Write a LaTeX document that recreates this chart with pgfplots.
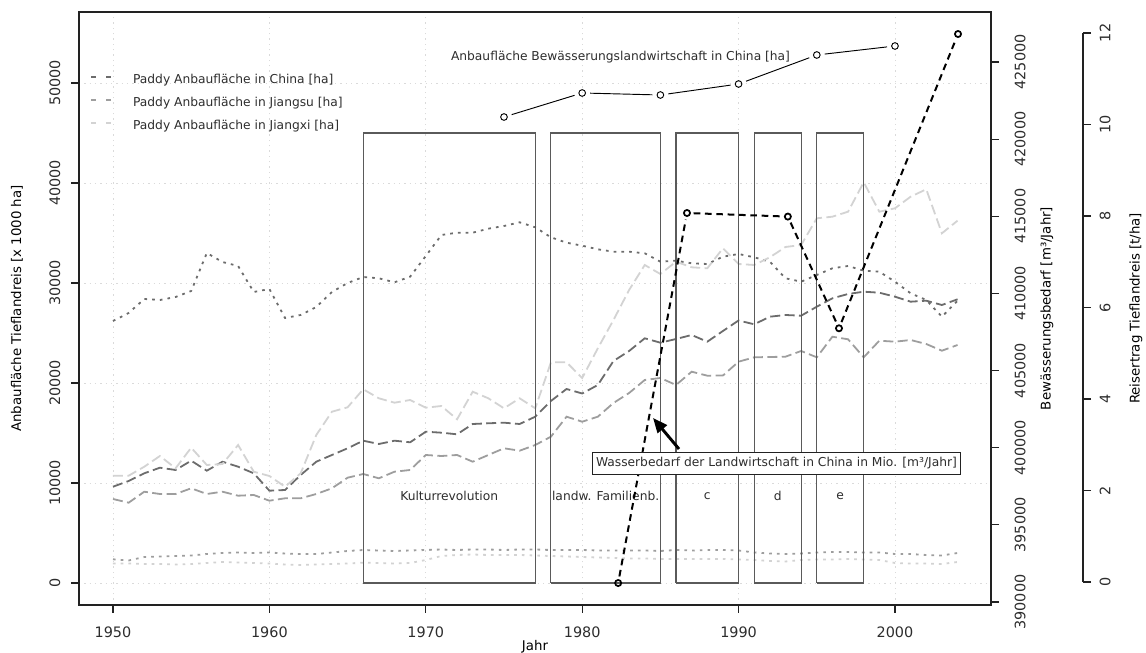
\documentclass[border=0pt]{standalone}
\usepackage{fontspec}
\setmainfont{DejaVu Sans}
\usepackage{pgfplots}
\usepackage{pgfplotstable}
\pgfplotsset{compat=1.18}
\usetikzlibrary{arrows.meta}

\definecolor{txt}{RGB}{45,45,45}
\definecolor{frame}{RGB}{34,34,34}
\definecolor{gdark}{RGB}{108,108,108}
\definecolor{gmed}{RGB}{158,158,158}
\definecolor{glight}{RGB}{211,211,211}
\definecolor{gridc}{RGB}{218,218,218}
\definecolor{boxc}{RGB}{90,90,90}

\newcommand{\tickfont}{\fontsize{10.8}{13}\selectfont}
\newcommand{\labfont}{\fontsize{11.2}{13}\selectfont}
\newcommand{\smallfont}{\fontsize{9.2}{11}\selectfont}

% year, China dotted, Jiangsu dotted, Jiangxi dotted, dashed lines (dark, medium, light)
\pgfplotstableread{
year cd js jx dd md ld
1950 26200 2370 1950 9630 8400 10730
1951 27000 2250 1950 10200 8030 10730
1952 28400 2600 1900 10970 9130 11630
1953 28300 2650 1900 11530 8900 12700
1954 28600 2700 1850 11300 8900 11470
1955 29200 2750 1900 12230 9470 13530
1956 33000 2900 2000 11230 8900 11800
1957 32100 3000 2100 12130 9130 11900
1958 31700 3050 2050 11630 8730 13800
1959 29100 3000 2000 10970 8800 11130
1960 29400 3050 1950 9230 8230 10700
1961 26500 2950 1850 9300 8470 9630
1962 26800 2900 1800 10800 8470 10970
1963 27600 2900 1850 12130 8900 14800
1964 29100 3050 1900 12800 9470 17130
1965 30000 3200 1950 13470 10530 17570
1966 30600 3300 2030 14230 10900 19370
1967 30470 3250 2000 13900 10470 18470
1968 30070 3200 1950 14230 11130 18030
1969 30630 3250 2000 14070 11300 18300
1970 32700 3300 2300 15130 12800 17530
1971 34800 3350 2700 15030 12700 17700
1972 35030 3300 2800 14870 12800 16370
1973 35030 3350 2850 15900 12130 19130
1974 35430 3350 2800 15970 12800 18470
1975 35700 3300 2800 16030 13470 17470
1976 36070 3350 2800 15900 13230 18470
1977 35570 3350 2750 16630 13800 17470
1978 34570 3300 2700 18200 14630 22070
1979 34030 3300 2650 19400 16630 22070
1980 33730 3300 2600 18950 16130 20500
1981 33370 3250 2550 19800 16630 23470
1982 33130 3250 2500 22200 18000 26300
1983 33130 3250 2450 23200 19000 29300
1984 32970 3250 2450 24470 20300 31800
1985 32130 3200 2400 24030 20500 30900
1986 32230 3300 2400 24400 19800 32130
1987 31970 3250 2400 24800 21130 31570
1988 31900 3300 2400 24130 20730 31470
1989 32630 3300 2400 25200 20750 33470
1990 32900 3250 2350 26250 22130 31900
1991 32570 3050 2300 25870 22570 31800
1992 32130 2950 2200 26630 22600 32570
1993 30470 2900 2150 26800 22630 33600
1994 30130 2950 2300 26730 23200 33800
1995 30800 3050 2350 27630 22570 36470
1996 31470 3100 2350 28470 24630 36630
1997 31700 3100 2400 28900 24370 37130
1998 31230 3050 2350 29130 22570 40070
1999 31130 3050 2300 29030 24230 37130
2000 30130 2900 2000 28630 24130 37470
2001 28970 2900 1950 28130 24300 38630
2002 28300 2800 1950 28230 23900 39370
2003 26630 2750 1900 27800 23230 34970
2004 28230 3000 2100 28370 23800 36230
}\data

\pgfplotsset{
  base/.style={
    at={(0pt,0pt)}, anchor=south west,
    scale only axis, width=684pt, height=444.75pt,
    xmin=1947.826, xmax=2006.14,
    tick align=outside, major tick length=6pt,
    tick style={color=frame, line width=0.8pt},
    scaled ticks=false,
    /pgf/number format/fixed,
    /pgf/number format/precision=0,
    /pgf/number format/1000 sep={},
    /pgf/number format/assume math mode=true,
    tick label style={font=\tickfont, text=txt},
    label style={font=\labfont, text=txt},
    clip=false,
  },
  dashA/.style={line width=1.35pt, dash pattern=on 7.5pt off 3.3pt},
  dotA/.style={line width=1.35pt, dash pattern=on 2pt off 3.8pt},
  seg/.style={forget plot, black, line width=0.7pt, shorten <=6pt, shorten >=6pt},
  wseg/.style={black, line width=1.5pt, dash pattern=on 5pt off 3.5pt, shorten <=5pt, shorten >=5pt},
}

\begin{document}
\begin{tikzpicture}
\useasboundingbox (-59.25pt,-36pt) rectangle (800.25pt,453.75pt);

% main axis: paddy area
\begin{axis}[base,
  ymin=-2200, ymax=57100,
  axis line style={color=frame, line width=1.1pt},
  tick pos=left,
  xtick={1950,1960,...,2000},
  ytick={0,10000,...,50000},
  grid=major,
  grid style={color=gridc, line width=0.6pt, dash pattern=on 1pt off 3pt},
  yticklabel style={xshift=-12pt, rotate=90, anchor=center},
  xticklabel style={yshift=-14.25pt, anchor=center},
  xlabel={Jahr},
  ylabel={Anbaufläche Tieflandreis [x 1000 ha]},
  every axis x label/.style={at={(axis description cs:0.5,0)}, yshift=-31pt, anchor=center},
  every axis y label/.style={at={(axis description cs:0,0.5)}, xshift=-46.5pt, rotate=90, anchor=center},
  legend style={at={(axis description cs:0,1)}, anchor=north west, xshift=8.25pt, yshift=-46.5pt,
    draw=none, fill=none, font=\smallfont, text=txt, inner sep=0pt,
    row sep=8.25pt, column sep=15.75pt,
    nodes={inner sep=0pt, text height=7pt, text depth=2pt}},
  legend cell align=left,
  legend image code/.code={\draw[#1, dash pattern=on 3.75pt off 7.5pt] (0pt,2.5pt) -- (15pt,2.5pt);},
]
\addplot[gdark, dotA] table[x=year, y=cd] {\data};
\addlegendentry{Paddy Anbaufläche in China [ha]}
\addplot[gmed, dotA] table[x=year, y=js] {\data};
\addlegendentry{Paddy Anbaufläche in Jiangsu [ha]}
\addplot[glight, dotA] table[x=year, y=jx] {\data};
\addlegendentry{Paddy Anbaufläche in Jiangxi [ha]}

\addplot[forget plot, gdark, dashA] table[x=year, y=dd] {\data};
\addplot[forget plot, gmed, dashA] table[x=year, y=md] {\data};
\addplot[forget plot, glight, dashA] table[x=year, y=ld] {\data};

% periods
\addplot[forget plot, boxc, line width=0.8pt] coordinates {(1966,0) (1966,45000) (1977,45000) (1977,0) (1966,0)};
\addplot[forget plot, boxc, line width=0.8pt] coordinates {(1978,0) (1978,45000) (1985,45000) (1985,0) (1978,0)};
\addplot[forget plot, boxc, line width=0.8pt] coordinates {(1986,0) (1986,45000) (1990,45000) (1990,0) (1986,0)};
\addplot[forget plot, boxc, line width=0.8pt] coordinates {(1991,0) (1991,45000) (1994,45000) (1994,0) (1991,0)};
\addplot[forget plot, boxc, line width=0.8pt] coordinates {(1995,0) (1995,45000) (1998,45000) (1998,0) (1995,0)};

\node[font=\smallfont, text=txt] at (axis cs:1971.5,8700) {Kulturrevolution};
\node[font=\smallfont, text=txt] at (axis cs:1981.5,8700) {landw. Familienb.};
\node[font=\smallfont, text=txt] at (axis cs:1988,8700) {c};
\node[font=\smallfont, text=txt] at (axis cs:1992.5,8700) {d};
\node[font=\smallfont, text=txt] at (axis cs:1996.5,8700) {e};

% irrigated area
\addplot[seg] coordinates {(1975,46600) (1980,49000)};
\addplot[seg] coordinates {(1980,49000) (1985,48800)};
\addplot[seg] coordinates {(1985,48800) (1990,49900)};
\addplot[seg] coordinates {(1990,49900) (1995,52800)};
\addplot[seg] coordinates {(1995,52800) (2000,53700)};
\addplot[forget plot, only marks, mark=o, mark size=2.5pt, black, line width=0.7pt]
  coordinates {(1975,46600) (1980,49000) (1985,48800) (1990,49900) (1995,52800) (2000,53700)};
\node[font=\smallfont, text=txt] at (axis cs:1982.45,52630) {Anbaufläche Bewässerungslandwirtschaft in China [ha]};

\coordinate (lab) at (axis cs:1992.42,12000);
\coordinate (atail) at (axis cs:1986.19,13400);
\coordinate (ahead) at (axis cs:1984.53,16500);
\end{axis}

% water demand axis
\begin{axis}[base,
  ymin=389806, ymax=428240,
  axis x line=none, axis y line*=right,
  axis line style={draw=none},
  ytick={390000,395000,...,425000},
  yticklabel style={xshift=15.75pt, rotate=90, anchor=center},
  ylabel={Bewässerungsbedarf [m³/Jahr]},
  every axis y label/.style={at={(axis description cs:1,0.5)}, xshift=42pt, rotate=90, anchor=center},
]
\addplot[wseg] coordinates {(1982.3,391230) (1986.7,415212)};
\addplot[wseg] coordinates {(1986.7,415212) (1993.15,414980)};
\addplot[wseg] coordinates {(1993.15,414980) (1996.42,407740)};
\addplot[wseg] coordinates {(1996.42,407740) (2004.03,426813)};
\addplot[only marks, mark=o, mark size=2.3pt, black, line width=1.3pt]
  coordinates {(1982.3,391230) (1986.7,415212) (1993.15,414980) (1996.42,407740) (2004.03,426813)};
\end{axis}

% rice yield axis
\begin{axis}[
  at={(753pt,0pt)}, anchor=south east,
  scale only axis, width=20pt, height=444.75pt,
  xmin=0, xmax=1, ymin=-0.503, ymax=12.459,
  axis x line=none, axis y line*=right,
  axis line style={draw=none},
  tick align=outside, major tick length=6pt,
  tick style={color=frame, line width=0.8pt},
  ytick={0,2,...,12},
  /pgf/number format/fixed,
  /pgf/number format/assume math mode=true,
  tick label style={font=\tickfont, text=txt},
  yticklabel style={xshift=10.5pt, rotate=90, anchor=center},
  ylabel={Reisertrag Tieflandreis [t/ha]},
  label style={font=\labfont, text=txt},
  every axis y label/.style={at={(axis description cs:1,0.5)}, xshift=39.75pt, rotate=90, anchor=center},
  clip=false,
]
\draw[frame, line width=0.8pt] (axis cs:1,0) -- (axis cs:1,12);
\end{axis}

\draw[black, line width=2.2pt, -{Triangle[length=11pt,width=9pt]}] (atail) -- (ahead);
\node[draw=frame, fill=white, line width=0.6pt, font=\smallfont, text=txt,
  text height=7pt, text depth=2.3pt, inner ysep=3.6pt, inner xsep=3pt] at (lab)
  {Wasserbedarf der Landwirtschaft in China in Mio. [m³/Jahr]};
\end{tikzpicture}
\end{document}
